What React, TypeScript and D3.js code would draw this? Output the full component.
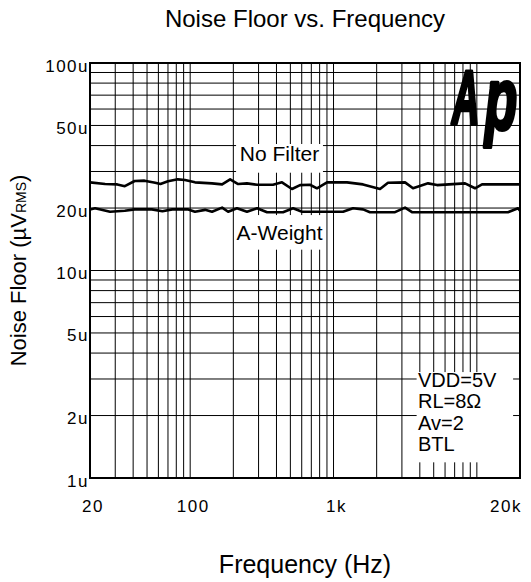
import * as d3 from "d3"

const width = 531
const height = 582
const margin = { top: 63, right: 11, bottom: 104, left: 90 }

// No Filter trace (Hz, µV)
const noFilterFreq = [20, 25.5, 31, 35, 41, 48, 57, 62, 70, 82, 92, 108, 142, 167, 190, 216, 249, 293, 378, 437, 513, 584, 685, 767, 901, 1242, 1606, 2110, 2400, 3154, 3586, 4564, 5274, 8268, 9712, 10866, 20000]
const noFilterNoise = [26.6, 26.1, 26.0, 25.5, 27.0, 27.1, 26.5, 26.1, 26.9, 27.5, 27.3, 26.6, 26.3, 26.0, 27.5, 26.1, 26.3, 25.9, 25.9, 26.6, 24.7, 25.8, 25.9, 24.9, 26.6, 26.6, 26.0, 24.7, 26.5, 26.6, 24.9, 26.3, 25.8, 26.3, 24.9, 26.0, 26.0]

// A-Weight trace (Hz, µV)
const aWeightFreq = [20, 21.7, 27.6, 35, 41, 54, 64, 75, 97, 108, 127, 142, 167, 184, 212, 249, 293, 344, 444, 522, 603, 1165, 1368, 1606, 1797, 2686, 3154, 3529, 16498, 19370, 20000]
const aWeightNoise = [19.7, 19.95, 19.2, 19.4, 19.7, 19.7, 19.3, 19.7, 19.7, 19.2, 19.6, 19.2, 20.1, 19.2, 19.95, 19.2, 19.95, 19.1, 19.1, 19.95, 19.2, 19.2, 19.95, 19.7, 19.1, 19.1, 20.1, 19.1, 19.1, 19.95, 19.4]

const xTickValues = [20, 100, 1000, 20000]
const xTickLabels = ["20", "100", "1k", "20k"]
const yTickValues = [1, 2, 5, 10, 20, 50, 100]
const yTickLabels = ["1u", "2u", "5u", "10u", "20u", "50u", "100u"]
const conditions = ["VDD=5V", "RL=8Ω", "Av=2", "BTL"]

const font = "'Liberation Sans', Arial, Helvetica, sans-serif"

type Pt = { f: number; v: number }

export default function App() {
  const x = d3.scaleLog().domain([20, 20000]).range([margin.left, width - margin.right])
  const y = d3.scaleLog().domain([1, 100]).range([height - margin.bottom, margin.top])

  // grid at every 1..9 multiple of each decade
  const xGrid: number[] = []
  for (let dec = 10; dec <= 10000; dec *= 10)
    for (let m = 1; m <= 9; m++) {
      const f = dec * m
      if (f > 20 && f < 20000) xGrid.push(f)
    }
  const yGrid: number[] = []
  for (let dec = 1; dec <= 10; dec *= 10)
    for (let m = 1; m <= 9; m++) {
      const v = dec * m
      if (v > 1 && v < 100) yGrid.push(v)
    }

  const line = d3
    .line<Pt>()
    .x((d) => x(d.f))
    .y((d) => y(d.v))

  const noFilter = noFilterFreq.map((f, i) => ({ f, v: noFilterNoise[i] }))
  const aWeight = aWeightFreq.map((f, i) => ({ f, v: aWeightNoise[i] }))

  const [x0, x1] = x.range()
  const [yBottom, yTop] = y.range()

  // label boxes, in data units
  const noFilterBox = { f0: 209, f1: 844, v0: 29.6, v1: 40.7 }
  const aWeightBox = { f0: 209, f1: 844, v0: 12.6, v1: 18.5 }
  const condBox = { f0: 3800, f1: 17900, v0: 1.19, v1: 3.24 }
  const box = (b: typeof noFilterBox) => ({
    x: x(b.f0),
    y: y(b.v1),
    width: x(b.f1) - x(b.f0),
    height: y(b.v0) - y(b.v1),
  })

  return (
    <svg
      width={width}
      height={height}
      style={{ position: "absolute", left: 0, top: 0, display: "block", background: "#fff" }}
      fontFamily={font}
    >
      <text x={(x0 + x1) / 2} y={27} textAnchor="middle" fontSize={24} fill="#000">
        Noise Floor vs. Frequency
      </text>

      <g stroke="#000" strokeWidth={1}>
        {xGrid.map((f) => (
          <line key={"x" + f} x1={x(f)} x2={x(f)} y1={yTop} y2={yBottom} />
        ))}
        {yGrid.map((v) => (
          <line key={"y" + v} x1={x0} x2={x1} y1={y(v)} y2={y(v)} />
        ))}
      </g>

      {[noFilterBox, aWeightBox, condBox].map((b, i) => (
        <rect key={i} {...box(b)} fill="#fff" />
      ))}

      <rect x={x0} y={yTop} width={x1 - x0} height={yBottom - yTop} fill="none" stroke="#000" strokeWidth={2} />

      <path d={line(noFilter) ?? ""} fill="none" stroke="#000" strokeWidth={2.6} strokeLinejoin="round" />
      <path d={line(aWeight) ?? ""} fill="none" stroke="#000" strokeWidth={2.6} strokeLinejoin="round" />

      <text x={x(420)} y={y(33.7)} textAnchor="middle" fontSize={21}>
        No Filter
      </text>
      <text x={x(420)} y={y(14.1)} textAnchor="middle" fontSize={21}>
        A-Weight
      </text>

      <text fontSize={20}>
        {conditions.map((c, i) => (
          <tspan key={c} x={x(3886)} y={y(2.75) + i * 21.5}>
            {c}
          </tspan>
        ))}
      </text>

      {/* Ap logo */}
      <g fontWeight={900} fontStyle="italic" fill="#000" stroke="#000" strokeWidth={4} strokeLinejoin="round">
        <text transform={`translate(${x(6700)},${y(51)}) scale(0.5,1)`} fontSize={76}>
          A
        </text>
        <text transform={`translate(${x(11400)},${y(48)}) scale(0.6,1)`} fontSize={88}>
          p
        </text>
      </g>

      <g fontSize={17} letterSpacing={1.5} fill="#000">
        {yTickValues.map((v, i) => (
          <text key={v} x={x0 - 1} y={y(v) + 8.5} textAnchor="end">
            {yTickLabels[i]}
          </text>
        ))}
        {xTickValues.map((f, i) => (
          <text
            key={f}
            x={i === xTickValues.length - 1 ? x1 + 2 : x(f) + 3}
            y={yBottom + 34}
            textAnchor={i === xTickValues.length - 1 ? "end" : "middle"}
          >
            {xTickLabels[i]}
          </text>
        ))}
      </g>

      <text x={(x0 + x1) / 2} y={573} textAnchor="middle" fontSize={25}>
        Frequency (Hz)
      </text>

      <text transform={`translate(26,${(yTop + yBottom) / 2}) rotate(-90)`} textAnchor="middle" fontSize={22}>
        Noise Floor (µV<tspan fontSize={14}>RMS</tspan>)
      </text>
    </svg>
  )
}
